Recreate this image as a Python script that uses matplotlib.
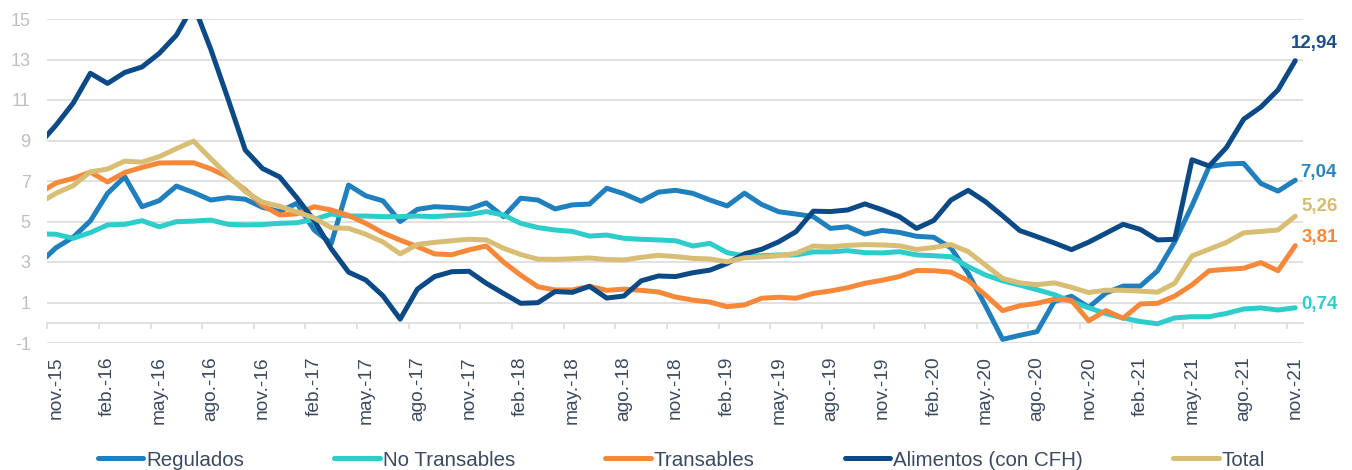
import numpy as np
import matplotlib
matplotlib.use("Agg")
import matplotlib.pyplot as plt

plt.rcParams['font.family'] = ['Liberation Sans', 'DejaVu Sans']

# ---------------- data (monthly, oct.-15 ... nov.-21; oct.-15 lies just left of the axis start) ----
regulados = [2.90, 3.70, 4.22, 5.03, 6.39, 7.21, 5.73, 6.03, 6.75, 6.43, 6.06, 6.18, 6.10, 5.70, 5.49,
             5.90, 4.58, 3.92, 6.80, 6.27, 6.02, 5.00, 5.60, 5.73, 5.69, 5.62, 5.92, 5.24, 6.15, 6.06,
             5.62, 5.82, 5.86, 6.64, 6.37, 6.00, 6.45, 6.54, 6.39, 6.06, 5.77, 6.40, 5.84, 5.48, 5.37,
             5.24, 4.66, 4.74, 4.38, 4.56, 4.46, 4.27, 4.22, 3.69, 2.44, 0.84, -0.82, -0.62, -0.44, 1.05,
             1.31, 0.76, 1.47, 1.81, 1.81, 2.56, 4.00, 5.78, 7.71, 7.84, 7.87, 6.88, 6.50, 7.04]
no_transables = [4.39, 4.37, 4.17, 4.45, 4.83, 4.86, 5.04, 4.74, 4.99, 5.02, 5.07, 4.86, 4.83, 4.85, 4.91,
                 4.94, 5.10, 5.37, 5.27, 5.27, 5.24, 5.24, 5.27, 5.24, 5.30, 5.34, 5.49, 5.32, 4.91, 4.70,
                 4.58, 4.51, 4.28, 4.33, 4.17, 4.12, 4.09, 4.05, 3.79, 3.92, 3.46, 3.30, 3.31, 3.35, 3.35,
                 3.50, 3.50, 3.56, 3.46, 3.45, 3.51, 3.35, 3.31, 3.26, 2.77, 2.36, 2.07, 1.86, 1.63, 1.39,
                 1.05, 0.74, 0.45, 0.24, 0.06, -0.05, 0.24, 0.30, 0.30, 0.46, 0.68, 0.73, 0.63, 0.74]
transables = [6.38, 6.90, 7.13, 7.44, 6.95, 7.42, 7.67, 7.89, 7.90, 7.90, 7.60, 7.20, 6.56, 5.80, 5.32,
              5.38, 5.73, 5.57, 5.30, 4.91, 4.44, 4.08, 3.76, 3.40, 3.36, 3.60, 3.79, 3.00, 2.35, 1.78,
              1.62, 1.62, 1.80, 1.60, 1.66, 1.60, 1.52, 1.27, 1.12, 1.02, 0.79, 0.88, 1.21, 1.26, 1.21,
              1.45, 1.57, 1.73, 1.95, 2.10, 2.28, 2.58, 2.57, 2.50, 2.08, 1.37, 0.60, 0.84, 0.96, 1.16,
              1.10, 0.10, 0.60, 0.22, 0.93, 0.96, 1.32, 1.87, 2.57, 2.64, 2.69, 2.97, 2.57, 3.81]
alimentos = [8.79, 9.75, 10.84, 12.32, 11.82, 12.36, 12.63, 13.30, 14.20, 15.70, 13.50, 11.05, 8.53, 7.62,
             7.20, 6.17, 5.05, 3.65, 2.50, 2.11, 1.33, 0.18, 1.66, 2.28, 2.52, 2.54, 1.95, 1.45, 0.96,
             0.99, 1.54, 1.50, 1.80, 1.22, 1.32, 2.07, 2.31, 2.28, 2.47, 2.60, 2.93, 3.40, 3.63, 4.00,
             4.50, 5.51, 5.49, 5.57, 5.87, 5.58, 5.24, 4.66, 5.05, 6.06, 6.54, 5.98, 5.28, 4.55, 4.25,
             3.94, 3.61, 3.98, 4.42, 4.86, 4.61, 4.09, 4.12, 8.05, 7.74, 8.65, 10.05, 10.65, 11.50, 12.94]
total = [5.89, 6.39, 6.77, 7.45, 7.59, 7.98, 7.93, 8.20, 8.60, 8.97, 8.10, 7.27, 6.48, 5.96, 5.75,
         5.47, 5.18, 4.69, 4.66, 4.37, 3.99, 3.40, 3.87, 3.97, 4.05, 4.12, 4.09, 3.68, 3.37, 3.14,
         3.13, 3.16, 3.20, 3.12, 3.10, 3.23, 3.33, 3.27, 3.18, 3.15, 3.01, 3.21, 3.25, 3.31, 3.43,
         3.79, 3.75, 3.82, 3.86, 3.84, 3.80, 3.62, 3.72, 3.86, 3.51, 2.85, 2.19, 1.97, 1.88, 1.97,
         1.75, 1.49, 1.61, 1.60, 1.56, 1.51, 1.95, 3.30, 3.63, 3.97, 4.44, 4.51, 4.58, 5.26]

tick_labels = ['nov.-15', 'feb.-16', 'may.-16', 'ago.-16', 'nov.-16', 'feb.-17', 'may.-17', 'ago.-17',
               'nov.-17', 'feb.-18', 'may.-18', 'ago.-18', 'nov.-18', 'feb.-19', 'may.-19', 'ago.-19',
               'nov.-19', 'feb.-20', 'may.-20', 'ago.-20', 'nov.-20', 'feb.-21', 'may.-21', 'ago.-21',
               'nov.-21']

series_names = ['Regulados', 'No Transables', 'Transables', 'Alimentos (con CFH)', 'Total']
series_colors = ['#2080BE', '#2ECCCB', '#F7883A', '#0B4A86', '#D8BE74']
label_colors = ['#2A86C3', '#2ECCCB', '#F4883C', '#1F4F86', '#D6BC70']
label_offsets = [(5, 8), (6, 3.5), (6, 8.5), (-4, 17), (6, 10)]   # pixels

# ---------------- figure ----------------
W, H = 1352, 470
fig = plt.figure(figsize=(W / 100, H / 100), dpi=100)
x0, x1, ytop, ybot = 47.3, 1303, 19, 343
ax = fig.add_axes([x0 / W, 1 - ybot / H, (x1 - x0) / W, (ybot - ytop) / H])

x = np.arange(len(total)) - 1
all_series = [regulados, no_transables, transables, alimentos, total]
for vals, name, col in zip(all_series, series_names, series_colors):
    ax.plot(x, vals, color=col, lw=3.6, label=name, solid_capstyle='round', zorder=3)

ymin, ymax = -1, 15
ax.set_xlim(-0.5, 72.45)
ax.set_ylim(ymin, ymax)

grid_col = '#D9D9D9'
ax.set_yticks(np.arange(-1, 16, 2))
ax.set_yticklabels([str(v) for v in np.arange(-1, 16, 2)])
ax.grid(axis='y', color=grid_col, lw=1.1)
ax.set_axisbelow(True)
ax.tick_params(axis='y', length=0, pad=12, labelsize=13, labelcolor='#BFBFBF')

ax.set_xticks(np.arange(0, 73, 3))
ax.set_xticklabels(tick_labels, rotation=90)
ax.tick_params(axis='x', length=0, pad=9.5, labelsize=13.8, labelcolor='#3B4A5E')
for s in ax.spines.values():
    s.set_visible(False)

# category axis line at zero with tick marks between groups
sec = ax.secondary_xaxis((0 - ymin) / (ymax - ymin))
sec.set_xticks(np.arange(-0.5, 72, 3))
sec.set_xticklabels([])
sec.tick_params(axis='x', direction='out', length=4.5, width=1.1, color=grid_col)
for s in sec.spines.values():
    s.set_color(grid_col)
    s.set_linewidth(1.1)

# end-value labels
for vals, col, off in zip(all_series, label_colors, label_offsets):
    txt = f"{vals[-1]:.2f}".replace('.', ',')
    ax.annotate(txt, xy=(x[-1], vals[-1]), xytext=off, textcoords='offset pixels',
                ha='left', va='center', fontsize=13.5, fontweight='bold', color=col,
                annotation_clip=False)

handles, labels = ax.get_legend_handles_labels()
fig.legend(handles, labels, loc='center', bbox_to_anchor=(0.504, 0.021), ncol=5, frameon=False,
           fontsize=14.8, handlelength=2.2, handletextpad=0.15, columnspacing=4.4,
           labelcolor='#3B4A5E')

fig.savefig('out.png', dpi=100)
